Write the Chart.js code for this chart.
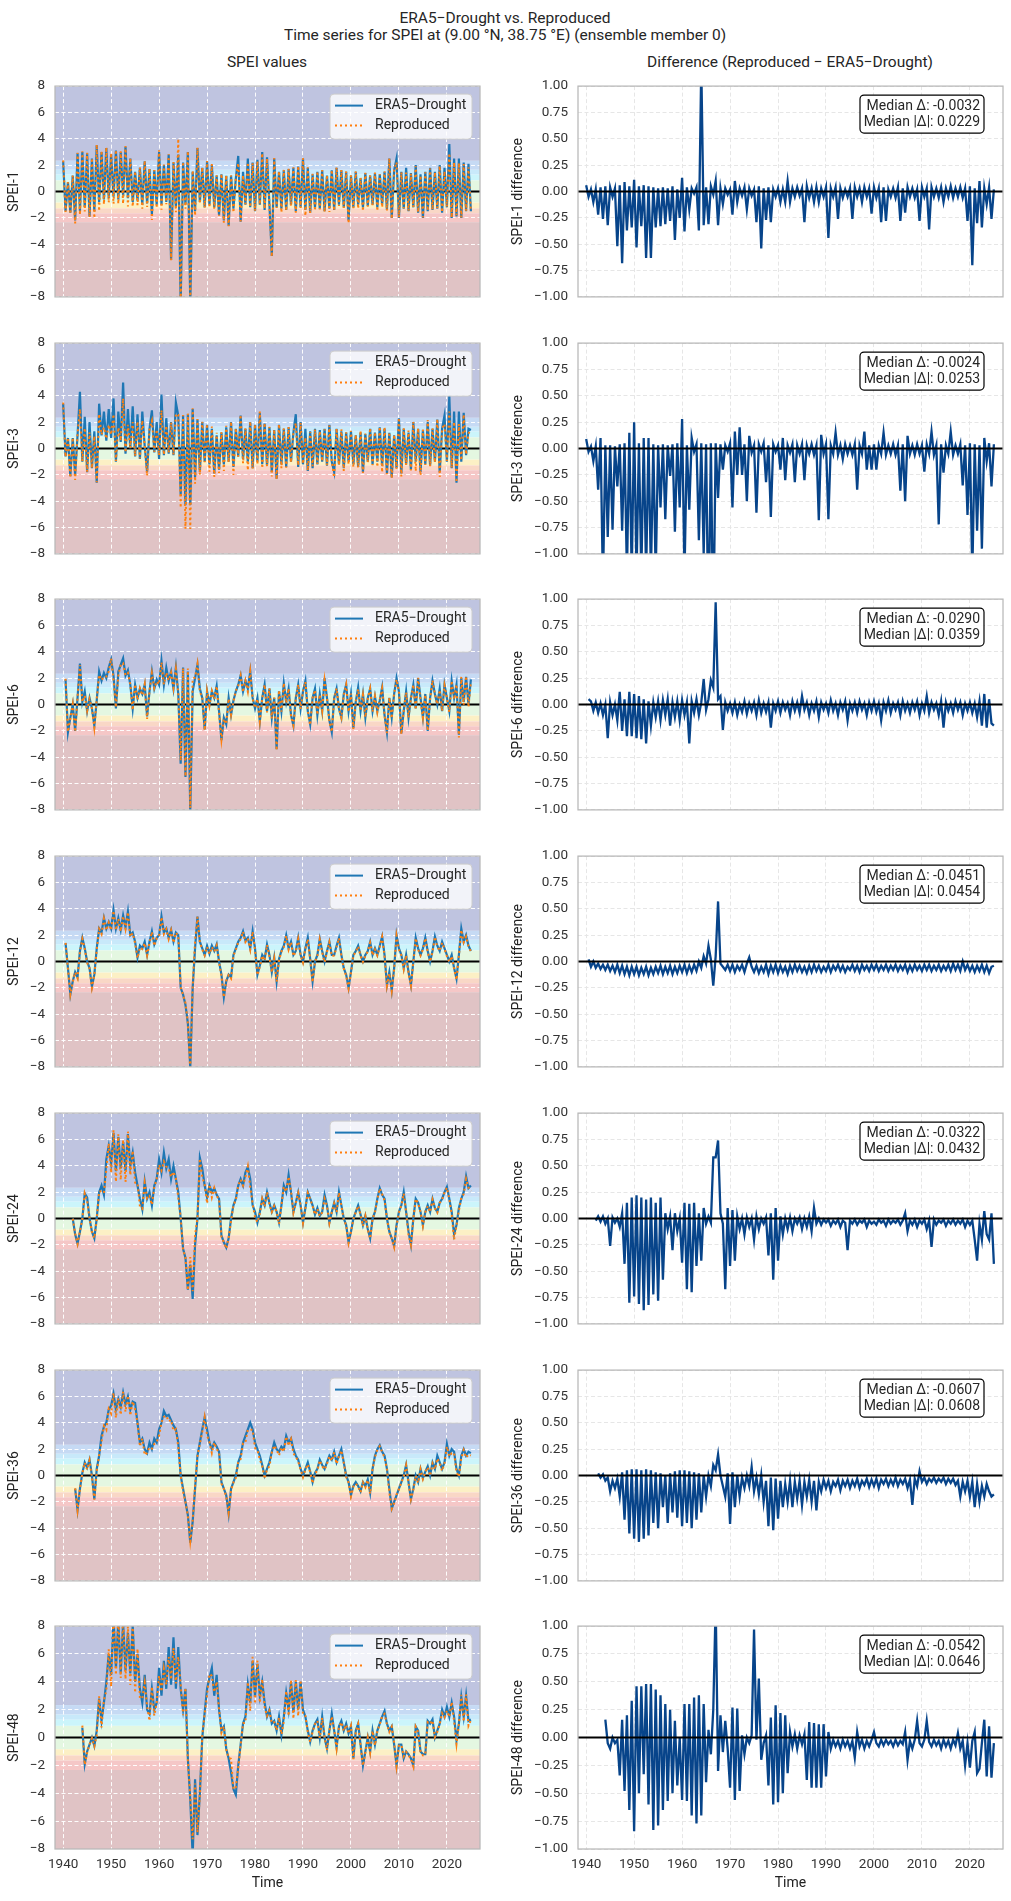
<!DOCTYPE html>
<html>
<head>
<meta charset="utf-8">
<script src="https://cdn.jsdelivr.net/npm/chart.js@4.4.1/dist/chart.umd.min.js"></script>
<style>
  body { margin: 0; background: #fff; width: 1011px; height: 1901px; position: relative; font-family: Roboto, sans-serif; color: #262626; }
  canvas { position: absolute; }
  .ttl { position: absolute; font-size: 15.5px; line-height: 17px; text-align: center; white-space: nowrap; transform: translateX(-50%); }
</style>
</head>
<body>
<div class="ttl" style="left:505px; top:10px;">ERA5−Drought vs. Reproduced<br>Time series for SPEI at (9.00 °N, 38.75 °E) (ensemble member 0)</div>
<div class="ttl" style="left:267px; top:54px;">SPEI values</div>
<div class="ttl" style="left:790px; top:54px;">Difference (Reproduced − ERA5−Drought)</div>

<script>
// half-yearly samples, first value at 1940.0
const t0 = 1940;
const dt = 0.5;

const scaleNames = ['SPEI-1', 'SPEI-3', 'SPEI-6', 'SPEI-12', 'SPEI-24', 'SPEI-36', 'SPEI-48'];
const medianDelta = [-0.0032, -0.0024, -0.0290, -0.0451, -0.0322, -0.0607, -0.0542];
const medianAbsDelta = [0.0229, 0.0253, 0.0359, 0.0454, 0.0432, 0.0608, 0.0646];

const xTicks = [1940, 1950, 1960, 1970, 1980, 1990, 2000, 2010, 2020];
const valueTicks = [-8, -6, -4, -2, 0, 2, 4, 6, 8];
const diffTicks = [-1, -0.75, -0.5, -0.25, 0, 0.25, 0.5, 0.75, 1];

// ERA5-Drought SPEI values
const spei1 = [
  2.3,-1.5,0.7,-1.6,1.2,-2.2,2.9,-1.5,3.0,-1.2,
  2.9,-1.9,2.5,-1.5,3.5,-0.8,3.0,-0.6,3.3,-0.5,
  2.8,-0.4,3.1,-0.6,3.0,-0.3,3.4,-0.5,2.5,-0.8,
  1.5,-0.7,1.8,-1.0,2.3,-0.9,1.7,-1.7,1.6,-1.0,
  3.0,-1.0,2.0,-0.8,2.8,-5.2,2.2,-1.2,2.8,-8.5,
  2.2,-1.0,3.0,-8.5,1.5,-1.5,3.3,-0.8,1.8,-1.2,
  2.3,-1.0,2.0,-1.2,1.2,-1.8,1.3,-2.2,1.2,-2.6,
  1.2,-1.3,1.0,2.7,-2.3,1.5,-1.0,2.5,-1.2,2.2,
  -1.5,2.4,-1.0,3.0,-1.4,2.6,-1.0,-4.9,2.5,-1.2,
  1.5,-1.3,1.6,-1.4,1.7,-1.0,1.8,-1.5,1.9,-1.2,
  2.5,-1.4,1.8,-1.6,1.3,-1.2,1.5,-1.3,1.6,-1.5,
  1.2,-1.3,1.6,-1.4,1.8,-1.0,1.6,-1.2,1.5,-2.2,
  1.2,-1.2,1.5,-1.0,1.0,-1.2,1.4,-1.1,1.2,-1.0,
  1.4,-1.2,1.3,-1.0,1.5,-1.4,2.5,-2.0,1.6,2.5,
  -2.0,1.5,-1.3,1.8,-1.5,1.4,-1.2,2.0,-1.6,1.3,
  -2.0,1.5,-1.5,1.8,-1.4,1.5,-1.3,2.0,-1.6,1.8,
  -1.2,3.6,-2.0,2.5,-1.9,2.5,-2.0,2.2,-1.5,2.1,
  -1.5
];
const spei3 = [
  3.4,-0.6,0.8,-2.1,0.8,-2.0,1.0,4.3,-1.0,2.4,
  -1.8,2.0,-1.5,1.3,-2.6,3.4,1.0,2.8,0.6,3.0,
  0.8,3.8,-1.0,2.8,0.5,5.0,-0.4,3.0,0.0,3.2,
  -0.6,2.6,-0.8,2.8,0.2,-1.8,1.5,2.9,-0.3,2.0,
  -0.8,4.1,-0.5,2.3,-0.4,2.0,-0.5,3.5,2.5,-3.5,
  2.5,-4.3,2.6,-4.3,3.0,-2.2,2.2,-1.8,2.0,-1.0,
  1.8,-1.2,1.5,-1.9,1.0,-1.6,1.2,-1.2,1.6,-1.0,
  2.0,-1.4,1.5,-0.6,2.5,-0.8,1.5,-1.0,2.0,-1.5,
  1.8,-1.0,2.7,-1.2,1.9,-1.3,1.6,-1.8,1.4,-2.3,
  1.8,-1.2,1.5,-1.4,1.6,-1.0,1.2,2.6,-1.4,2.0,
  -1.2,1.5,-1.7,1.3,-1.5,1.5,-1.2,1.4,-1.0,1.5,
  -1.3,1.8,-1.0,-1.8,1.5,-1.2,1.3,-1.5,1.2,-1.0,
  1.3,-1.2,1.0,-1.4,1.2,-1.8,1.1,-1.0,1.5,-1.2,
  1.2,-1.0,1.6,-1.3,1.5,-1.9,1.2,-2.2,1.0,-1.5,
  2.3,-1.9,1.5,-1.2,1.2,-1.6,2.0,-1.0,1.5,-1.8,
  1.4,-1.2,2.0,-1.3,1.5,-1.0,2.2,-1.8,1.5,2.5,
  -1.0,4.0,-1.5,2.8,-2.6,2.8,-1.0,2.7,-0.5,1.5,
  1.4
];
const spei6 = [
  null,1.9,-2.1,-1.0,0.0,-2.0,0.5,3.1,0.2,1.0,
  -0.5,0.5,-0.3,-1.6,0.3,2.5,1.8,2.4,2.0,2.8,
  3.4,2.2,-0.3,2.5,3.0,3.5,2.2,2.6,1.5,-0.3,
  1.5,0.5,1.2,0.8,1.5,-0.9,1.0,2.5,1.2,1.9,
  1.5,3.3,1.5,2.8,1.8,2.5,1.2,2.8,0.8,-4.5,
  2.8,-5.5,2.5,-8.0,1.0,2.0,3.0,1.2,0.5,-1.9,
  1.0,0.0,1.0,0.5,1.4,-0.5,-2.7,-1.0,-1.5,0.5,
  -0.8,0.3,1.0,1.5,2.2,1.0,1.8,1.2,2.5,0.5,
  -0.3,0.5,-1.3,0.5,1.5,-0.5,1.2,-1.0,0.5,-3.4,
  1.0,-0.5,1.6,0.2,1.2,-0.8,-1.6,0.5,1.5,-0.3,
  1.0,1.8,-0.5,-1.5,0.5,1.2,-0.8,0.8,-0.5,2.0,
  0.5,-1.2,-2.1,0.5,1.2,-0.3,-1.0,0.8,1.5,-0.5,
  0.8,-1.8,0.2,1.3,-0.5,0.8,-1.0,0.5,1.2,-0.5,
  0.6,-0.5,0.3,1.3,-0.8,-2.1,0.5,-1.0,0.8,2.0,
  1.0,-2.2,-0.5,1.0,-1.0,0.5,1.5,-0.3,2.0,0.5,
  -1.0,0.8,-2.0,0.5,1.8,0.8,0.0,1.2,-0.5,1.5,
  0.5,-0.5,1.8,0.5,1.5,-2.3,2.0,0.2,2.1,0.0,
  1.9
];
const spei12 = [
  null,1.4,-0.5,-2.5,-1.5,-0.8,-1.2,0.8,1.8,1.0,
  0.0,-0.5,-1.9,-1.0,1.0,2.5,2.2,3.3,2.5,3.0,
  2.5,3.9,2.5,3.3,2.4,3.5,2.6,3.8,2.0,2.2,
  1.5,0.3,1.2,1.0,1.5,0.5,1.5,2.3,1.3,1.8,
  2.0,3.4,2.2,2.5,1.8,2.4,1.5,2.2,2.0,-2.0,
  -2.5,-3.3,-4.7,-8.0,-2.0,1.0,3.4,1.5,1.0,0.5,
  1.2,0.6,1.2,0.8,1.3,0.0,-1.0,-2.7,-1.5,-1.0,
  -1.2,0.5,1.0,1.5,1.8,2.3,1.6,1.8,1.0,2.3,
  1.0,-1.0,-0.3,0.5,0.2,1.3,0.5,-0.8,0.3,-1.5,
  0.2,0.8,1.2,2.0,1.0,1.5,0.5,0.8,1.8,0.5,
  0.0,1.0,1.8,0.2,-1.5,0.0,0.5,1.7,0.8,0.0,
  0.8,1.5,0.5,0.5,1.2,1.8,0.5,-0.5,-1.0,-2.0,
  -0.8,0.5,0.8,1.2,0.5,0.0,0.5,0.8,1.5,0.5,
  1.0,0.5,1.2,1.9,0.5,-1.8,-0.8,-2.2,-0.5,2.0,
  1.0,0.5,-0.5,0.5,-0.8,-1.8,0.0,1.8,1.0,0.5,
  1.0,1.8,0.8,0.0,0.8,1.9,1.2,0.8,1.5,1.0,
  0.5,0.0,0.5,-0.5,-1.3,0.5,2.5,1.5,2.0,1.2,
  0.8
];
const spei24 = [
  null,null,null,null,0.0,-1.2,-1.9,-1.0,0.0,1.9,
  1.6,0.0,-1.0,-1.5,0.0,2.0,2.5,1.8,4.5,5.5,
  4.2,6.5,3.6,6.2,3.8,5.8,3.6,6.4,4.0,5.0,
  3.5,2.5,1.5,0.7,2.8,1.5,2.0,1.0,2.5,3.0,
  4.5,3.5,5.0,3.8,4.5,3.0,4.0,3.0,2.0,0.0,
  -2.3,-3.0,-5.4,-3.5,-6.1,-2.0,0.0,4.6,3.8,2.5,
  1.6,2.5,2.0,2.3,1.8,1.5,-1.3,-1.8,-2.2,-1.5,
  0.0,1.0,1.5,2.5,3.0,2.5,3.5,3.9,3.0,1.0,
  0.5,-0.3,0.5,1.5,1.0,2.0,1.2,0.5,1.0,0.5,
  -0.3,1.0,2.5,2.0,3.3,2.0,0.5,1.2,2.0,1.0,
  -0.3,0.8,2.0,1.5,1.0,0.3,0.8,0.2,0.5,1.8,
  1.0,-0.3,0.5,1.2,0.5,2.0,1.0,0.0,-0.5,-1.8,
  -1.0,0.0,0.5,1.0,0.3,-0.5,0.2,-0.8,-1.5,0.0,
  0.5,1.5,2.3,1.8,1.5,0.0,-1.0,-1.5,-2.1,-0.5,
  0.5,1.0,2.0,0.5,-1.0,-2.0,0.0,1.5,1.2,0.5,
  -0.5,0.5,1.0,0.5,1.5,0.8,0.5,1.2,1.5,2.0,
  2.4,1.5,0.5,-1.2,-0.5,0.8,1.5,2.0,3.2,2.3,
  2.5
];
const spei36 = [
  null,null,null,null,null,-1.0,-2.6,-1.0,0.2,1.0,
  0.6,1.2,0.0,-1.8,0.5,1.5,3.0,3.7,4.0,5.0,
  5.3,6.2,5.0,5.8,5.2,6.3,5.4,6.0,5.0,5.6,
  5.5,4.0,2.5,2.8,2.0,1.7,2.5,2.0,2.8,2.5,
  3.5,4.0,4.9,4.5,4.6,4.2,3.8,3.5,2.5,0.0,
  -1.0,-2.0,-3.0,-5.1,-3.5,-1.0,1.5,2.5,3.5,4.4,
  3.5,2.5,2.0,2.5,2.2,1.8,-0.5,-1.0,-1.5,-2.9,
  -1.0,-0.5,0.0,1.0,1.5,2.5,3.0,3.5,4.0,3.5,
  2.5,2.0,1.5,0.8,0.0,0.5,1.0,1.8,2.5,2.0,
  1.8,2.2,2.0,3.0,2.5,2.8,2.0,1.5,1.2,0.5,
  0.0,0.5,1.0,0.3,-0.5,0.2,0.5,1.2,0.8,0.5,
  1.0,1.5,1.2,1.8,1.0,1.5,2.0,1.0,0.0,-0.5,
  -1.5,-0.8,-0.5,-0.8,-1.2,-0.5,-0.8,-0.3,-1.3,0.5,
  1.5,2.0,2.3,1.8,1.5,0.5,-1.0,-2.5,-2.0,-1.5,
  -1.0,-0.5,0.0,0.8,-0.5,-1.8,-1.0,0.0,-0.5,0.5,
  -0.2,0.3,0.7,0.0,1.0,0.5,1.5,1.0,0.5,1.0,
  2.4,1.5,2.0,1.8,0.5,0.0,1.5,2.0,1.5,1.8,
  1.7
];
const spei48 = [
  null,null,null,null,null,null,null,null,0.7,-1.9,
  -1.0,-0.5,0.0,-0.6,0.5,2.8,1.2,2.5,4.0,6.0,
  4.5,8.5,5.0,8.3,4.6,8.2,4.8,7.5,4.6,8.0,
  4.0,6.0,3.5,2.5,4.5,2.0,1.7,3.5,2.0,2.5,
  5.0,3.0,5.5,3.5,6.5,3.8,7.2,3.5,6.5,3.5,
  2.0,3.5,-1.5,-4.5,-8.5,-3.0,-7.0,-4.0,0.0,1.8,
  3.5,4.3,5.0,3.0,4.5,2.0,0.5,0.8,-0.8,-1.5,
  -2.5,-3.7,-4.1,-2.0,-0.5,1.0,1.5,3.8,2.5,5.5,
  3.0,5.3,3.0,4.0,2.5,1.5,2.0,1.0,1.2,0.5,
  1.5,0.2,1.5,3.2,2.0,4.0,1.8,4.0,2.0,4.0,
  2.0,1.5,0.5,-0.3,0.5,1.0,1.3,0.0,1.5,0.0,
  -0.8,0.5,1.7,0.5,-0.7,0.8,1.2,0.5,1.0,0.3,
  0.8,-1.5,0.5,1.0,-0.5,-2.0,-1.0,0.0,-1.0,0.5,
  -0.5,0.5,1.0,1.5,1.9,1.0,0.5,0.8,-0.5,-2.0,
  -0.5,-0.5,-1.5,-1.0,-1.2,-1.5,-2.0,0.8,0.5,-1.0,
  -1.2,-1.2,1.2,1.0,1.3,0.0,0.5,1.0,2.0,1.5,
  2.2,1.5,2.5,1.5,-0.2,1.0,2.9,1.5,3.0,1.2,
  1.3
];

// Reproduced minus ERA5-Drought
const diff1 = [
  0.06,-0.05,0.02,-0.1,0.02,-0.22,0.04,-0.26,0.05,-0.32,
  0.04,-0.05,0.03,-0.52,0.06,-0.68,0.09,-0.37,0.05,-0.34,
  0.11,-0.53,0.05,-0.33,0.06,-0.63,0.05,-0.63,0.04,-0.34,
  0.03,-0.33,0.04,-0.31,0.03,-0.28,0.05,-0.46,0.02,-0.25,
  0.13,-0.38,0.04,-0.17,0.03,-0.02,0.04,-0.37,1.2,-0.32,
  0.04,-0.31,0.05,-0.03,0.1,-0.32,0.03,-0.12,0.03,-0.03,
  0.02,-0.22,0.1,-0.1,0.03,-0.04,0.04,-0.17,0.03,-0.04,
  0.02,-0.29,0.05,-0.54,0.03,-0.27,0.04,-0.29,0.02,-0.05,
  0.03,-0.1,0.02,-0.1,0.1,-0.1,0.03,-0.05,0.04,-0.04,
  0.03,-0.29,0.05,-0.06,0.03,-0.1,0.04,-0.1,0.03,-0.05,
  0.04,-0.44,0.03,-0.05,0.04,-0.26,0.03,-0.06,0.02,-0.05,
  0.03,-0.26,0.04,-0.05,0.03,-0.1,0.04,-0.05,0.03,-0.21,
  0.04,-0.06,0.03,-0.29,0.04,-0.28,0.02,-0.05,0.03,-0.06,
  0.04,-0.28,0.03,-0.2,0.04,-0.05,0.03,-0.06,0.02,-0.28,
  0.04,-0.05,0.03,-0.36,0.04,-0.05,0.03,-0.06,0.04,-0.1,
  0.03,-0.05,0.05,-0.06,0.03,-0.05,0.04,-0.06,0.03,-0.28,
  0.05,-0.7,0.03,-0.3,0.1,-0.34,0.03,-0.12,0.04,-0.26,
  0.02
];
const diff3 = [
  0.09,-0.03,0.02,-0.12,0.02,-0.39,0.1,-1.3,0.03,-0.84,
  0.03,-0.77,0.02,-0.36,0.04,-0.78,0.05,-1.2,0.15,-1.2,
  0.25,-1.2,0.05,-1.2,0.1,-1.2,0.1,-1.2,0.04,-1.2,
  0.03,-0.56,0.04,-0.67,0.03,-0.26,0.04,-0.79,0.05,-0.56,
  0.28,-1.2,0.03,-0.58,0.1,-0.03,0.04,-0.87,0.05,-1.0,
  0.04,-1.8,0.05,-1.8,0.05,-0.47,0.04,-0.2,0.03,-0.03,
  0.05,-0.56,0.16,-0.25,0.2,-0.25,0.04,-0.5,0.12,-0.04,
  0.03,-0.61,0.04,-0.03,0.05,-0.32,0.03,-0.65,0.04,-0.03,
  0.03,-0.2,0.1,-0.3,0.03,-0.04,0.04,-0.32,0.03,-0.05,
  0.04,-0.3,0.03,-0.05,0.04,-0.06,0.03,-0.68,0.13,-0.05,
  0.04,-0.67,0.03,-0.05,0.15,-0.06,0.03,-0.1,0.04,-0.05,
  0.03,-0.06,0.04,-0.39,0.03,-0.05,0.16,-0.2,0.03,-0.2,
  0.04,-0.2,0.03,-0.05,0.15,-0.06,0.03,-0.05,0.04,-0.06,
  0.03,-0.4,0.04,-0.5,0.12,-0.05,0.03,-0.06,0.04,-0.05,
  0.03,-0.22,0.04,-0.05,0.16,-0.06,0.03,-0.72,0.04,-0.23,
  0.03,-0.05,0.16,-0.06,0.03,-0.05,0.04,-0.35,0.03,-0.63,
  0.05,-1.2,0.04,-0.78,0.03,-0.95,0.1,-0.12,0.05,-0.36,
  0.04
];
const diff6 = [
  null,0.05,0.03,-0.06,0.02,-0.08,0.01,-0.1,0.0,-0.32,
  0.02,-0.1,0.0,-0.15,0.12,-0.25,0.05,-0.3,0.12,-0.3,
  0.1,-0.32,0.08,-0.33,0.05,-0.37,0.03,-0.2,0.02,-0.12,
  0.03,-0.15,0.04,-0.1,0.05,-0.2,0.02,-0.12,0.03,-0.15,
  0.04,-0.1,0.02,-0.37,0.03,-0.08,0.05,-0.1,0.02,0.24,
  -0.05,0.05,0.23,0.16,0.97,0.05,0.08,-0.24,0.02,-0.06,
  0.01,-0.08,0.02,-0.1,0.0,-0.07,0.03,-0.09,0.01,-0.06,
  0.02,-0.1,0.04,-0.08,0.01,-0.07,0.02,-0.22,0.01,-0.06,
  0.03,-0.08,0.02,-0.05,0.01,-0.1,0.03,-0.06,0.02,-0.08,
  0.08,-0.05,0.02,-0.1,0.01,-0.06,0.03,-0.12,0.02,-0.05,
  0.01,-0.08,0.04,-0.06,0.01,-0.1,0.02,-0.05,0.03,-0.15,
  0.01,-0.06,0.02,-0.08,0.03,-0.05,0.01,-0.1,0.02,-0.06,
  0.03,-0.07,0.01,-0.15,0.02,-0.06,0.04,-0.08,0.01,-0.05,
  0.02,-0.1,0.03,-0.06,0.01,-0.08,0.02,-0.05,0.03,-0.1,
  0.01,-0.06,0.08,-0.08,0.02,-0.05,0.01,-0.1,0.03,-0.22,
  0.02,-0.06,0.01,-0.08,0.03,-0.05,0.02,-0.1,0.01,-0.06,
  0.02,-0.08,0.01,-0.12,0.03,-0.2,0.1,-0.22,0.05,-0.18,
  -0.2
];
const diff12 = [
  null,0.02,-0.05,0.0,-0.06,-0.02,-0.07,-0.03,-0.08,-0.03,
  -0.09,-0.04,-0.1,-0.03,-0.11,-0.04,-0.12,-0.05,-0.13,-0.05,
  -0.12,-0.05,-0.13,-0.06,-0.12,-0.05,-0.13,-0.06,-0.12,-0.05,
  -0.11,-0.04,-0.12,-0.05,-0.11,-0.04,-0.12,-0.05,-0.11,-0.04,
  -0.1,-0.03,-0.11,-0.04,-0.1,-0.03,-0.09,0.0,-0.06,0.05,
  -0.02,0.15,0.02,-0.23,0.05,0.57,-0.02,-0.05,-0.08,-0.03,
  -0.09,-0.03,-0.1,-0.04,-0.08,-0.03,-0.1,-0.02,0.04,-0.05,
  -0.1,-0.04,-0.11,-0.05,-0.1,-0.03,-0.12,-0.04,-0.1,-0.03,
  -0.11,-0.04,-0.1,-0.05,-0.12,-0.04,-0.1,-0.03,-0.09,-0.04,
  -0.1,-0.05,-0.11,-0.04,-0.1,-0.03,-0.09,-0.04,-0.1,-0.05,
  -0.09,-0.03,-0.1,-0.04,-0.08,-0.03,-0.09,-0.04,-0.1,-0.05,
  -0.08,-0.03,-0.09,-0.04,-0.1,-0.03,-0.08,-0.04,-0.09,-0.03,
  -0.08,-0.03,-0.09,-0.04,-0.08,-0.03,-0.09,-0.04,-0.08,-0.03,
  -0.09,-0.04,-0.08,-0.03,-0.1,-0.04,-0.09,-0.03,-0.08,-0.04,
  -0.09,-0.03,-0.08,-0.03,-0.09,-0.04,-0.08,-0.03,-0.09,-0.04,
  -0.08,-0.03,-0.09,-0.02,-0.08,-0.03,-0.09,0.0,-0.08,-0.03,
  -0.09,-0.04,-0.1,-0.04,-0.09,-0.03,-0.1,-0.04,-0.11,-0.05,
  -0.04
];
const diff24 = [
  null,null,null,null,-0.02,0.02,-0.03,0.02,-0.05,0.0,
  -0.26,0.01,-0.04,0.0,-0.08,0.05,-0.43,0.15,-0.8,0.2,
  -0.74,0.22,-0.81,0.2,-0.87,0.18,-0.82,0.2,-0.72,0.15,
  -0.78,0.2,-0.58,0.05,-0.1,0.02,-0.3,0.05,-0.12,0.0,
  -0.42,0.15,-0.67,0.14,-0.7,0.15,-0.45,0.05,-0.4,0.1,
  -0.05,0.02,-0.04,0.58,0.58,0.74,0.05,-0.05,-0.67,0.1,
  -0.45,0.08,-0.4,0.02,-0.1,0.0,-0.15,0.01,-0.08,0.0,
  -0.2,0.02,-0.1,0.0,-0.05,0.01,-0.35,0.05,-0.58,0.1,
  -0.4,0.02,-0.15,0.0,-0.1,0.01,-0.12,0.0,-0.05,0.01,
  -0.1,0.0,-0.08,0.02,-0.12,0.1,-0.05,0.0,-0.06,-0.01,
  -0.04,-0.01,-0.07,-0.02,-0.05,-0.01,-0.08,-0.02,-0.04,-0.3,
  -0.02,-0.05,-0.01,-0.06,-0.02,-0.04,-0.01,-0.08,-0.02,-0.05,
  -0.03,-0.06,-0.01,-0.04,-0.02,-0.07,-0.01,-0.05,-0.02,-0.04,
  -0.01,-0.06,-0.02,0.05,-0.12,-0.02,-0.06,-0.01,-0.08,-0.02,
  -0.05,-0.01,-0.1,-0.02,-0.27,-0.01,-0.06,-0.02,-0.04,-0.01,
  -0.07,-0.02,-0.05,-0.01,-0.06,-0.02,-0.05,-0.01,-0.08,-0.02,
  -0.06,-0.02,-0.2,-0.4,-0.05,-0.2,0.07,-0.15,-0.2,0.05,
  -0.43
];
const diff36 = [
  null,null,null,null,null,0.02,-0.02,0.01,-0.05,-0.02,
  -0.15,-0.05,-0.12,-0.03,-0.2,0.03,-0.42,0.05,-0.55,0.06,
  -0.6,0.06,-0.63,0.05,-0.6,0.06,-0.57,0.05,-0.45,0.03,
  -0.5,0.02,-0.3,0.0,-0.45,0.02,-0.35,0.04,-0.4,0.05,
  -0.48,0.05,-0.45,0.04,-0.5,0.03,-0.42,0.02,-0.35,0.0,
  -0.2,0.0,-0.1,0.1,0.05,0.2,0.0,-0.1,-0.2,0.02,
  -0.46,0.03,-0.3,0.0,-0.2,-0.02,-0.12,0.0,-0.1,0.08,
  -0.15,-0.02,-0.18,0.0,-0.25,-0.05,-0.48,-0.02,-0.52,-0.03,
  -0.41,-0.05,-0.3,-0.08,-0.25,-0.05,-0.3,-0.06,-0.22,-0.05,
  -0.28,-0.06,-0.2,-0.04,-0.25,-0.05,-0.33,-0.06,-0.15,-0.04,
  -0.12,-0.05,-0.15,-0.06,-0.1,-0.04,-0.14,-0.05,-0.1,-0.04,
  -0.12,-0.05,-0.1,-0.03,-0.12,-0.05,-0.09,-0.03,-0.11,-0.04,
  -0.1,-0.03,-0.12,-0.04,-0.08,-0.03,-0.1,-0.04,-0.09,-0.02,
  -0.1,-0.04,-0.08,-0.03,-0.12,-0.04,-0.28,-0.03,-0.1,0.04,
  -0.06,-0.02,-0.08,-0.03,-0.06,-0.02,-0.07,-0.03,-0.06,-0.02,
  -0.08,-0.03,-0.07,-0.03,-0.09,-0.05,-0.2,-0.06,-0.15,-0.05,
  -0.2,-0.06,-0.3,-0.08,-0.25,-0.1,-0.2,-0.08,-0.15,-0.2,
  -0.18
];
const diff48 = [
  null,null,null,null,null,null,null,null,0.16,-0.05,
  -0.1,0.0,-0.05,-0.02,-0.34,0.16,-0.48,0.2,-0.65,0.33,
  -0.84,0.46,-0.5,0.46,-0.33,0.48,-0.6,0.48,-0.83,0.43,
  -0.79,0.38,-0.65,0.3,-0.57,0.25,-0.5,0.15,-0.43,0.0,
  -0.56,0.3,-0.57,0.3,-0.7,0.36,-0.77,0.38,-0.7,0.3,
  -0.4,0.07,-0.15,0.25,1.2,-0.3,0.2,-0.13,0.15,-0.1,
  -0.45,0.27,-0.56,0.26,-0.48,0.02,-0.15,0.0,-0.05,0.02,
  0.97,-0.02,0.53,-0.2,-0.05,0.02,-0.43,0.18,-0.6,0.29,
  -0.58,0.22,-0.5,0.2,-0.32,0.05,-0.08,0.03,-0.1,0.02,
  -0.06,0.03,-0.38,0.14,-0.45,0.13,-0.45,0.12,-0.45,0.12,
  -0.35,0.05,-0.1,-0.02,-0.08,-0.03,-0.1,-0.02,-0.08,-0.03,
  -0.1,-0.03,-0.18,0.05,-0.08,-0.02,-0.1,-0.03,-0.08,-0.02,
  0.05,-0.05,-0.08,-0.02,-0.07,-0.02,-0.06,-0.03,-0.08,-0.02,
  -0.07,-0.03,-0.06,0.05,-0.2,-0.03,-0.1,-0.02,0.15,-0.05,
  -0.08,-0.02,0.15,-0.04,-0.08,-0.02,-0.07,-0.03,-0.1,-0.02,
  -0.08,-0.03,-0.1,-0.02,-0.07,0.04,-0.1,-0.03,-0.25,-0.05,
  -0.27,-0.03,0.05,-0.32,-0.28,-0.05,0.16,-0.35,0.1,-0.36,
  -0.05
];

const era5 = [spei1, spei3, spei6, spei12, spei24, spei36, spei48];
const diffs = [diff1, diff3, diff6, diff12, diff24, diff36, diff48];

// SPEI class colours behind the value panels
const bandEdges = [99, 2.33, 1.65, 1.28, 0.84, -0.84, -1.28, -1.65, -2.33, -99];
const bandColors = ['#bfc4e0', '#c6daf4', '#c8e9fa', '#cbf5fb', '#e4f7e1', '#fcf0c5', '#f9d7c6', '#f5c7c7', '#e0c3c5'];

Chart.defaults.font.family = 'Roboto, sans-serif';
Chart.defaults.font.size = 13.5;
Chart.defaults.color = '#333';

function points(vals) {
  return vals.map((v, i) => ({ x: t0 + i * dt, y: v })).filter(p => p.y !== null);
}

function reproduced(vals, d) {
  return vals.map((v, i) => (v === null || d[i] === null) ? null : Math.round((v + d[i]) * 100) / 100);
}

function minus(s) { return s.replace('-', '\u2212'); }

function roundBox(ctx, x, y, w, h, r) {
  ctx.beginPath();
  ctx.moveTo(x + r, y);
  ctx.arcTo(x + w, y, x + w, y + h, r);
  ctx.arcTo(x + w, y + h, x, y + h, r);
  ctx.arcTo(x, y + h, x, y, r);
  ctx.arcTo(x, y, x + w, y, r);
  ctx.closePath();
}

function zeroLine(chart) {
  const { ctx, chartArea: a, scales: { y } } = chart;
  const y0 = y.getPixelForValue(0);
  ctx.save();
  ctx.strokeStyle = '#000';
  ctx.lineWidth = 2;
  ctx.beginPath();
  ctx.moveTo(a.left, y0);
  ctx.lineTo(a.right, y0);
  ctx.stroke();
  ctx.restore();
}

const decor = {
  id: 'decor',
  beforeDraw(chart, args, o) {
    const { ctx, chartArea: a, scales: { y } } = chart;
    ctx.save();
    if (o.kind === 'value') {
      for (let k = 0; k < bandColors.length; k++) {
        const top = Math.max(a.top, y.getPixelForValue(bandEdges[k]));
        const bot = Math.min(a.bottom, y.getPixelForValue(bandEdges[k + 1]));
        if (bot <= top) continue;
        ctx.fillStyle = bandColors[k];
        ctx.fillRect(a.left, top, a.width, bot - top);
      }
    } else {
      ctx.fillStyle = '#fff';
      ctx.fillRect(a.left, a.top, a.width, a.height);
    }
    ctx.restore();
  },
  beforeDatasetsDraw(chart, args, o) {
    if (o.kind === 'value') zeroLine(chart);
  },
  afterDatasetsDraw(chart, args, o) {
    if (o.kind === 'diff') zeroLine(chart);
  },
  afterDraw(chart, args, o) {
    const { ctx, chartArea: a } = chart;
    ctx.save();
    ctx.strokeStyle = '#b8b8b8';
    ctx.lineWidth = 1.25;
    ctx.strokeRect(a.left, a.top, a.width, a.height);
    ctx.font = '14px Roboto, sans-serif';
    ctx.textBaseline = 'middle';
    if (o.kind === 'value') {
      const x0 = a.right - 150, y0 = a.top + 8;
      roundBox(ctx, x0, y0, 142, 45, 4);
      ctx.fillStyle = 'rgba(255,255,255,0.8)';
      ctx.fill();
      ctx.strokeStyle = '#cccccc';
      ctx.lineWidth = 1;
      ctx.stroke();
      ctx.lineWidth = 2;
      ctx.strokeStyle = '#1f77b4';
      ctx.beginPath(); ctx.moveTo(x0 + 5, y0 + 11.5); ctx.lineTo(x0 + 33, y0 + 11.5); ctx.stroke();
      ctx.strokeStyle = '#ff7f0e';
      ctx.setLineDash([2, 3]);
      ctx.beginPath(); ctx.moveTo(x0 + 5, y0 + 31.5); ctx.lineTo(x0 + 33, y0 + 31.5); ctx.stroke();
      ctx.setLineDash([]);
      ctx.fillStyle = '#262626';
      ctx.textAlign = 'left';
      ctx.fillText('ERA5\u2212Drought', x0 + 45, y0 + 11.5);
      ctx.fillText('Reproduced', x0 + 45, y0 + 31.5);
    } else {
      const bx = a.right - 143, by = a.top + 9;
      roundBox(ctx, bx, by, 124, 38, 4);
      ctx.fillStyle = 'rgba(255,255,255,0.85)';
      ctx.fill();
      ctx.strokeStyle = '#000';
      ctx.lineWidth = 1.2;
      ctx.stroke();
      ctx.fillStyle = '#262626';
      ctx.textAlign = 'right';
      ctx.fillText('Median \u0394: ' + medianDelta[o.idx].toFixed(4), bx + 120, by + 11);
      ctx.fillText('Median |\u0394|: ' + medianAbsDelta[o.idx].toFixed(4), bx + 120, by + 27);
    }
    ctx.restore();
  }
};

function addCanvas(left, top, w, h) {
  const c = document.createElement('canvas');
  c.width = w;
  c.height = h;
  c.style.left = left + 'px';
  c.style.top = top + 'px';
  document.body.appendChild(c);
  return c;
}

function buildPanel(kind, i) {
  const last = i === scaleNames.length - 1;
  const plotTop = Math.round(74 + i * 256.7);
  const plotH = 235;
  const padTop = 6;
  const extra = last ? 46 : 6;
  const left = kind === 'value' ? 2 : 506;
  const width = kind === 'value' ? 488 : 505;
  const yWidth = kind === 'value' ? 53 : 72;
  const padRight = kind === 'value' ? 10 : 8;
  const canvas = addCanvas(left, plotTop - padTop, width, plotH + padTop + extra);

  const gridColor = kind === 'value' ? 'rgba(255,255,255,0.95)' : '#e6e6e6';
  let datasets;
  if (kind === 'value') {
    datasets = [
      { label: 'ERA5\u2212Drought', data: points(era5[i]), borderColor: '#1f77b4', borderWidth: 2.2, order: 1 },
      { label: 'Reproduced', data: points(reproduced(era5[i], diffs[i])), borderColor: '#ff7f0e', borderWidth: 2, borderDash: [2, 3], order: 0 }
    ];
  } else {
    datasets = [
      { label: 'Difference', data: points(diffs[i]), borderColor: '#07448a', borderWidth: 2.3 }
    ];
  }

  const yTicks = kind === 'value' ? valueTicks : diffTicks;

  new Chart(canvas, {
    type: 'line',
    data: { datasets },
    options: {
      responsive: false,
      animation: false,
      devicePixelRatio: 1,
      layout: { padding: { top: padTop, right: padRight, bottom: last ? 0 : 6, left: 0 } },
      elements: { point: { radius: 0 }, line: { tension: 0 } },
      plugins: {
        legend: { display: false },
        tooltip: { enabled: false },
        decor: { kind: kind, idx: i }
      },
      scales: {
        x: {
          type: 'linear',
          min: 1938.3,
          max: 2026.9,
          afterBuildTicks: s => { s.ticks = xTicks.map(v => ({ value: v })); },
          afterFit: s => { s.height = last ? 46 : 0; },
          grid: { color: gridColor, lineWidth: 1, drawTicks: false },
          border: { display: false, dash: [4, 2.5] },
          ticks: { display: last, padding: 8, maxRotation: 0, autoSkip: false, color: '#333', callback: v => String(v) },
          title: { display: last, text: 'Time', color: '#222', font: { size: 14 }, padding: { top: 0, bottom: 3 } }
        },
        y: {
          min: yTicks[0],
          max: yTicks[yTicks.length - 1],
          afterBuildTicks: s => { s.ticks = yTicks.map(v => ({ value: v })); },
          afterFit: s => { s.width = yWidth; },
          grid: { color: gridColor, lineWidth: 1, drawTicks: false },
          border: { display: false, dash: [4, 2.5] },
          ticks: {
            padding: 10,
            autoSkip: false,
            color: '#333',
            callback: v => kind === 'value' ? minus(String(v)) : minus(v.toFixed(2))
          },
          title: {
            display: true,
            text: kind === 'value' ? scaleNames[i] : scaleNames[i] + ' difference',
            color: '#222',
            font: { size: 14 },
            padding: { top: 4, bottom: 4 }
          }
        }
      }
    },
    plugins: [decor]
  });
}

for (let i = 0; i < scaleNames.length; i++) {
  buildPanel('value', i);
  buildPanel('diff', i);
}
</script>
</body>
</html>
